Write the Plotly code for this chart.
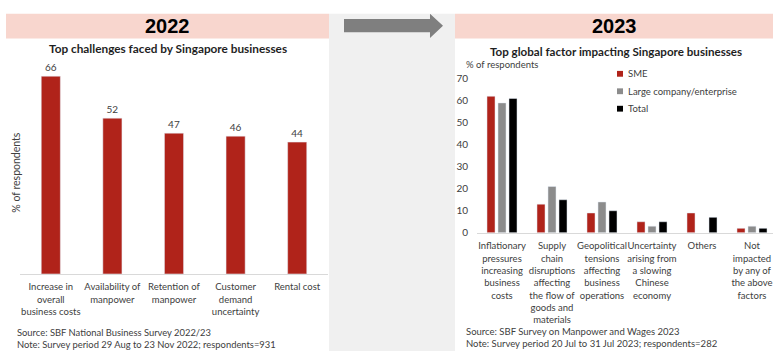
import plotly.graph_objects as go

W, H = 773, 357

# 2022: top challenges
challenges = [
    "Increase in<br>overall<br>business costs",
    "Availability of<br>manpower",
    "Retention of<br>manpower",
    "Customer<br>demand<br>uncertainty",
    "Rental cost",
]
challenge_pct = [66, 52, 47, 46, 44]

# 2023: top global factor, by company size
factors = [
    "Inflationary<br>pressures<br>increasing<br>business<br>costs",
    "Supply<br>chain<br>disruptions<br>affecting<br>the flow of<br>goods and<br>materials",
    "Geopolitical<br>tensions<br>affecting<br>business<br>operations",
    "Uncertainty<br>arising from<br>a slowing<br>Chinese<br>economy",
    "Others",
    "Not<br>impacted<br>by any of<br>the above<br>factors",
]
series_names = ["SME", "Large company/enterprise", "Total"]
sme = [62, 13, 9, 5, 9, 2]
large = [59, 21, 14, 3, None, 3]
total = [61, 15, 10, 5, 7, 2]
series_values = [sme, large, total]
series_colors = ["#B0231A", "#8C8C8C", "#000000"]

y_ticks = [0, 10, 20, 30, 40, 50, 60, 70]

FONT = "Lato, 'Open Sans', sans-serif"
LABEL = "#404040"


def px(x):
    return x / W


def py(y):
    return 1 - y / H


fig = go.Figure()

fig.add_trace(go.Bar(
    x=challenges, y=challenge_pct, xaxis="x", yaxis="y",
    marker_color=series_colors[0], width=0.31,
    text=challenge_pct, textposition="outside", cliponaxis=False,
    textfont=dict(size=10, color=LABEL, family=FONT),
    showlegend=False, hoverinfo="x+y",
))

for name, vals, col in zip(series_names, series_values, series_colors):
    fig.add_trace(go.Bar(
        name=name, x=factors, y=vals, xaxis="x2", yaxis="y2",
        marker_color=col, showlegend=False,
    ))

shapes = [
    # centre column and headers
    dict(type="rect", xref="paper", yref="paper", x0=px(329), x1=px(455),
         y0=py(357), y1=py(9), fillcolor="#F0F0F0", line_width=0, layer="below"),
    dict(type="rect", xref="paper", yref="paper", x0=px(6), x1=px(329),
         y0=py(34.5), y1=py(9), fillcolor="#F8D6CE", line_width=0, layer="below"),
    dict(type="rect", xref="paper", yref="paper", x0=px(455), x1=px(773),
         y0=py(34.5), y1=py(9), fillcolor="#F8D6CE", line_width=0, layer="below"),
]

# arrow between the two years
pts = [(344, 14.5), (430, 14.5), (430, 9), (443, 21.5), (430, 34), (430, 28), (344, 28)]
path = "M" + " L".join(f"{px(a):.5f},{py(b):.5f}" for a, b in pts) + " Z"
shapes.append(dict(type="path", xref="paper", yref="paper", path=path,
                   fillcolor="#7F7F7F", line_width=0))

annotations = [
    dict(text="<b>2022</b>", x=px(167), y=py(22), font=dict(size=20, color="#000000",
         family="'Liberation Sans', Arial, sans-serif")),
    dict(text="<b>2023</b>", x=px(614), y=py(22), font=dict(size=20, color="#000000",
         family="'Liberation Sans', Arial, sans-serif")),
    dict(text="<b>Top challenges faced by Singapore businesses</b>", x=px(168), y=py(45),
         font=dict(size=11.8, color="#1F1F1F", family=FONT)),
    dict(text="<b>Top global factor impacting Singapore businesses</b>", x=px(616), y=py(48),
         font=dict(size=11.6, color="#1F1F1F", family=FONT)),
    dict(text="% of respondents", x=px(464), y=py(61), xanchor="left",
         font=dict(size=9.5, color=LABEL, family=FONT)),
    dict(text="% of respondents", x=px(16), y=py(173), textangle=-90,
         font=dict(size=10.5, color=LABEL, family=FONT)),
    dict(text="Source: SBF National Business Survey 2022/23", x=px(15), y=py(338),
         xanchor="left", font=dict(size=9.4, color=LABEL, family=FONT)),
    dict(text="Note: Survey period 29 Aug to 23 Nov 2022; respondents=931", x=px(15), y=py(350),
         xanchor="left", font=dict(size=9.4, color=LABEL, family=FONT)),
    dict(text="Source: SBF Survey on Manpower and Wages 2023", x=px(464), y=py(337),
         xanchor="left", font=dict(size=9.5, color=LABEL, family=FONT)),
    dict(text="Note: Survey period 20 Jul to 31 Jul 2023; respondents=282", x=px(464), y=py(349),
         xanchor="left", font=dict(size=9.5, color=LABEL, family=FONT)),
]

# legend for the 2023 series
for i, (name, col) in enumerate(zip(series_names, series_colors)):
    yc = 71 + 18 * i
    shapes.append(dict(type="rect", xref="paper", yref="paper",
                       x0=px(617), x1=px(623), y0=py(yc + 3), y1=py(yc - 3),
                       fillcolor=col, line_width=0))
    annotations.append(dict(text=name, x=px(626), y=py(yc), xanchor="left",
                            font=dict(size=9.5, color=LABEL, family=FONT)))

for a in annotations:
    a.setdefault("xref", "paper")
    a.setdefault("yref", "paper")
    a.setdefault("showarrow", False)
    a.setdefault("xanchor", "center")
    a.setdefault("yanchor", "middle")

# right-hand value axis: 0 sits at y=235 px, 2.271 px per percentage point
y2_top = 70.5
y2_top_px = 235 - y2_top * (159 / 70)

fig.update_layout(
    width=W, height=H, margin=dict(l=0, r=0, t=0, b=0),
    paper_bgcolor="white", plot_bgcolor="rgba(0,0,0,0)",
    font=dict(family=FONT, color=LABEL),
    barmode="group", bargap=0.34, bargroupgap=0.27,
    shapes=shapes, annotations=annotations,
    xaxis=dict(domain=[px(20), px(328)], range=[-0.5, 4.5], showline=True,
               linecolor="#D9D9D9", linewidth=1, showgrid=False, zeroline=False,
               ticks="", tickfont=dict(size=9.5, color=LABEL), tickangle=0,
               ticklabelstandoff=4, anchor="y"),
    yaxis=dict(domain=[py(277.5), py(61.1)], range=[0, 70], showticklabels=False,
               showgrid=False, zeroline=False, showline=False, anchor="x"),
    xaxis2=dict(domain=[px(477), 1], range=[-0.5, 5.42], showline=True,
                linecolor="#D9D9D9", linewidth=1, showgrid=False, zeroline=False,
                ticks="", tickfont=dict(size=9.5, color=LABEL), tickangle=0,
                ticklabelstandoff=4, anchor="y2"),
    yaxis2=dict(domain=[py(235), py(y2_top_px)], range=[0, y2_top], tickvals=y_ticks,
                showgrid=False, zeroline=False, showline=False, ticks="",
                tickfont=dict(size=10, color=LABEL), ticklabelstandoff=8, anchor="x2"),
)

fig.write_html("out.html")
